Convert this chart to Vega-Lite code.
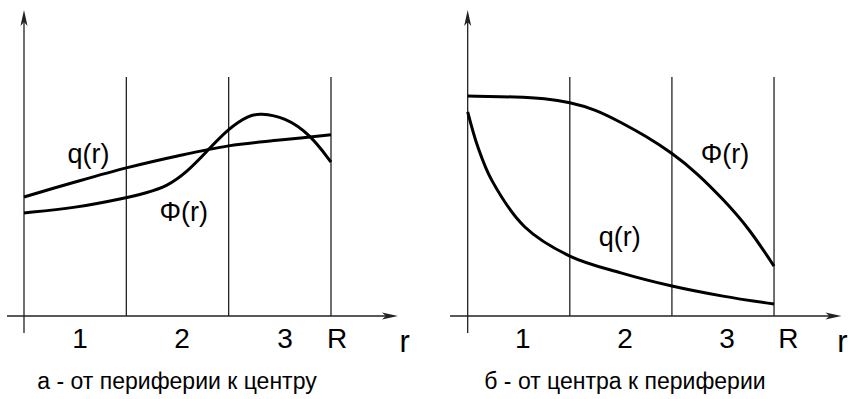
{
  "$schema": "https://vega.github.io/schema/vega-lite/v6.json",
  "padding": 0,
  "spacing": 0,
  "background": "white",
  "config": {"view": {"stroke": null}, "concat": {"spacing": 0}, "font": "Liberation Sans"},
  "datasets": {
    "qA": [
      {"r": 0, "v": 38.9}, {"r": 0.5, "v": 43.8}, {"r": 1, "v": 48.4},
      {"r": 1.5, "v": 52.3}, {"r": 2, "v": 55.6}, {"r": 2.5, "v": 57.5}, {"r": 3, "v": 59.2}
    ],
    "phiA": [
      {"r": 0, "v": 33.7}, {"r": 0.5, "v": 35.3}, {"r": 1, "v": 38.6},
      {"r": 1.19, "v": 40.2}, {"r": 1.4, "v": 42.4}, {"r": 1.59, "v": 47.0},
      {"r": 1.77, "v": 53.2}, {"r": 2, "v": 61.4}, {"r": 2.2, "v": 65.6},
      {"r": 2.3, "v": 66.2}, {"r": 2.55, "v": 65.0}, {"r": 2.8, "v": 59.2}, {"r": 3, "v": 50.3}
    ],
    "phiB": [
      {"r": 0, "v": 71.9}, {"r": 0.5, "v": 71.6}, {"r": 0.75, "v": 71.1},
      {"r": 1, "v": 69.9}, {"r": 1.25, "v": 67.5}, {"r": 1.5, "v": 63.3},
      {"r": 1.75, "v": 58.7}, {"r": 2, "v": 53.3}, {"r": 2.25, "v": 46.6},
      {"r": 2.5, "v": 38.2}, {"r": 2.75, "v": 28.9}, {"r": 3, "v": 16.3}
    ],
    "qB": [
      {"r": 0, "v": 66.7}, {"r": 0.1, "v": 55.2}, {"r": 0.235, "v": 44.4},
      {"r": 0.56, "v": 29.1}, {"r": 1, "v": 19.6}, {"r": 1.5, "v": 14.1},
      {"r": 2, "v": 9.8}, {"r": 2.5, "v": 6.5}, {"r": 3, "v": 3.9}
    ],
    "gridA": [
      {"r": -0.166, "r2": 3.6, "v": 0, "v2": 0},
      {"r": 0, "r2": 0, "v": -5.56, "v2": 97},
      {"r": 1, "r2": 1, "v": 0, "v2": 78.1},
      {"r": 2, "r2": 2, "v": 0, "v2": 78.1},
      {"r": 3, "r2": 3, "v": 0, "v2": 78.1}
    ],
    "gridB": [
      {"r": -0.173, "r2": 3.61, "v": 0, "v2": 0},
      {"r": 0, "r2": 0, "v": -5.56, "v2": 97},
      {"r": 1, "r2": 1, "v": 0, "v2": 78.1},
      {"r": 2, "r2": 2, "v": 0, "v2": 78.1},
      {"r": 3, "r2": 3, "v": 0, "v2": 78.1}
    ],
    "arrowsA": [{"dir": "x", "r": 3.654, "v": 0}, {"dir": "y", "r": 0, "v": 100}],
    "arrowsB": [{"dir": "x", "r": 3.66, "v": 0}, {"dir": "y", "r": 0, "v": 100}],
    "ticksA": [
      {"t": "1", "r": 0.547, "v": -10.46}, {"t": "2", "r": 1.544, "v": -10.46},
      {"t": "3", "r": 2.55, "v": -10.46}, {"t": "R", "r": 3.06, "v": -10.46}
    ],
    "ticksB": [
      {"t": "1", "r": 0.54, "v": -10.46}, {"t": "2", "r": 1.54, "v": -10.46},
      {"t": "3", "r": 2.54, "v": -10.46}, {"t": "R", "r": 3.14, "v": -10.46}
    ],
    "varA": [{"t": "r", "r": 3.72, "v": -11.76}],
    "varB": [{"t": "r", "r": 3.67, "v": -11.76}],
    "labelsA": [{"t": "q(r)", "r": 0.63, "v": 52.6}, {"t": "Φ(r)", "r": 1.56, "v": 33.5}],
    "labelsB": [{"t": "Φ(r)", "r": 2.52, "v": 52.6}, {"t": "q(r)", "r": 1.49, "v": 25.5}],
    "capA": [{"t": "а - от периферии к центру", "r": 1.495, "v": -23.86}],
    "capB": [{"t": "б - от центра к периферии", "r": 1.54, "v": -23.86}]
  },
  "hconcat": [
    {
      "width": 425,
      "height": 399,
      "encoding": {
        "x": {"field": "r", "type": "quantitative", "scale": {"domain": [-0.2345, 3.9186], "nice": false, "zero": false}, "axis": null},
        "y": {"field": "v", "type": "quantitative", "scale": {"domain": [-27.12, 103.27], "nice": false, "zero": false}, "axis": null}
      },
      "layer": [
        {"data": {"name": "gridA"}, "mark": {"type": "rule", "color": "#222", "strokeWidth": 1.3},
         "encoding": {"x2": {"field": "r2"}, "y2": {"field": "v2"}}},
        {"data": {"name": "arrowsA"}, "transform": [{"filter": "datum.dir == 'x'"}],
         "mark": {"type": "point", "shape": "M0,0L-1,-0.22L-0.75,0L-1,0.22Z", "filled": true, "color": "#222", "opacity": 1, "size": 1024}},
        {"data": {"name": "arrowsA"}, "transform": [{"filter": "datum.dir == 'y'"}],
         "mark": {"type": "point", "shape": "M0,0L-0.22,1L0,0.75L0.22,1Z", "filled": true, "color": "#222", "opacity": 1, "size": 1024}},
        {"data": {"name": "qA"}, "mark": {"type": "line", "color": "#000", "strokeWidth": 3, "interpolate": "catmull-rom"}, "encoding": {}},
        {"data": {"name": "phiA"}, "mark": {"type": "line", "color": "#000", "strokeWidth": 3, "interpolate": "basis"}, "encoding": {}},
        {"data": {"name": "ticksA"}, "mark": {"type": "text", "fontSize": 28, "baseline": "alphabetic", "align": "center", "color": "#000"},
         "encoding": {"text": {"field": "t"}}},
        {"data": {"name": "varA"}, "mark": {"type": "text", "fontSize": 31, "baseline": "alphabetic", "align": "center", "color": "#000"},
         "encoding": {"text": {"field": "t"}}},
        {"data": {"name": "labelsA"}, "mark": {"type": "text", "fontSize": 27, "baseline": "middle", "align": "center", "color": "#000"},
         "encoding": {"text": {"field": "t"}}},
        {"data": {"name": "capA"}, "mark": {"type": "text", "fontSize": 23, "baseline": "alphabetic", "align": "center", "color": "#000"},
         "encoding": {"text": {"field": "t"}}}
      ]
    },
    {
      "width": 425,
      "height": 399,
      "encoding": {
        "x": {"field": "r", "type": "quantitative", "scale": {"domain": [-0.418, 3.744], "nice": false, "zero": false}, "axis": null},
        "y": {"field": "v", "type": "quantitative", "scale": {"domain": [-27.12, 103.27], "nice": false, "zero": false}, "axis": null}
      },
      "layer": [
        {"data": {"name": "gridB"}, "mark": {"type": "rule", "color": "#222", "strokeWidth": 1.3},
         "encoding": {"x2": {"field": "r2"}, "y2": {"field": "v2"}}},
        {"data": {"name": "arrowsB"}, "transform": [{"filter": "datum.dir == 'x'"}],
         "mark": {"type": "point", "shape": "M0,0L-1,-0.22L-0.75,0L-1,0.22Z", "filled": true, "color": "#222", "opacity": 1, "size": 1024}},
        {"data": {"name": "arrowsB"}, "transform": [{"filter": "datum.dir == 'y'"}],
         "mark": {"type": "point", "shape": "M0,0L-0.22,1L0,0.75L0.22,1Z", "filled": true, "color": "#222", "opacity": 1, "size": 1024}},
        {"data": {"name": "phiB"}, "mark": {"type": "line", "color": "#000", "strokeWidth": 3, "interpolate": "basis"}, "encoding": {}},
        {"data": {"name": "qB"}, "mark": {"type": "line", "color": "#000", "strokeWidth": 3, "interpolate": "catmull-rom"}, "encoding": {}},
        {"data": {"name": "ticksB"}, "mark": {"type": "text", "fontSize": 28, "baseline": "alphabetic", "align": "center", "color": "#000"},
         "encoding": {"text": {"field": "t"}}},
        {"data": {"name": "varB"}, "mark": {"type": "text", "fontSize": 31, "baseline": "alphabetic", "align": "center", "color": "#000"},
         "encoding": {"text": {"field": "t"}}},
        {"data": {"name": "labelsB"}, "mark": {"type": "text", "fontSize": 27, "baseline": "middle", "align": "center", "color": "#000"},
         "encoding": {"text": {"field": "t"}}},
        {"data": {"name": "capB"}, "mark": {"type": "text", "fontSize": 23, "baseline": "alphabetic", "align": "center", "color": "#000"},
         "encoding": {"text": {"field": "t"}}}
      ]
    }
  ]
}
